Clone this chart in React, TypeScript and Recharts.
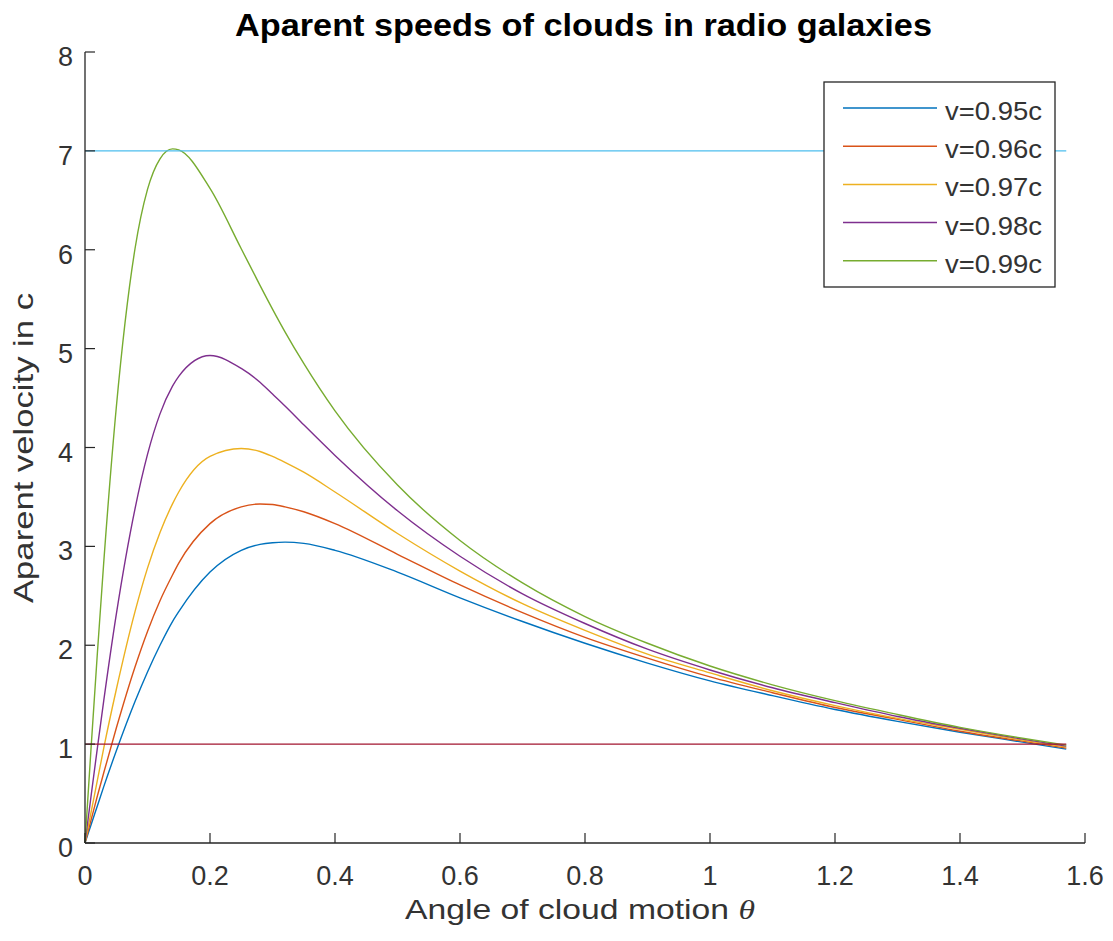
import React from 'react';
import { LineChart, Line, XAxis, YAxis } from 'recharts';

// angle of cloud motion (rad)
const theta = [0, 0.01, 0.02, 0.03, 0.05, 0.08, 0.1, 0.12, 0.14, 0.15, 0.2, 0.25, 0.28, 0.3, 0.32, 0.35, 0.4, 0.5, 0.6, 0.7, 0.8, 0.9, 1.0, 1.1, 1.2, 1.3, 1.4, 1.5, 1.57];

// apparent velocity
const v95 = [0, 0.19, 0.38, 0.57, 0.93, 1.43, 1.73, 2.0, 2.24, 2.34, 2.74, 2.96, 3.02, 3.037, 3.043, 3.03, 2.96, 2.74, 2.48, 2.24, 2.02, 1.82, 1.64, 1.49, 1.35, 1.23, 1.12, 1.02, 0.95];
const v96 = [0, 0.24, 0.48, 0.71, 1.16, 1.78, 2.14, 2.45, 2.71, 2.83, 3.23, 3.4, 3.429, 3.423, 3.4, 3.35, 3.23, 2.92, 2.61, 2.33, 2.08, 1.87, 1.68, 1.52, 1.37, 1.25, 1.13, 1.03, 0.96];
const v97 = [0, 0.32, 0.64, 0.96, 1.55, 2.34, 2.78, 3.14, 3.43, 3.55, 3.91, 3.99, 3.96, 3.91, 3.85, 3.75, 3.55, 3.13, 2.75, 2.42, 2.15, 1.91, 1.72, 1.54, 1.39, 1.26, 1.15, 1.04, 0.97];
const v98 = [0, 0.49, 0.97, 1.44, 2.31, 3.38, 3.93, 4.34, 4.62, 4.72, 4.93, 4.8, 4.66, 4.54, 4.42, 4.23, 3.92, 3.36, 2.9, 2.52, 2.22, 1.96, 1.75, 1.57, 1.42, 1.28, 1.16, 1.05, 0.98];
const v99 = [0, 0.99, 1.94, 2.84, 4.4, 6.01, 6.61, 6.92, 7.02, 7.01, 6.62, 6.01, 5.64, 5.4, 5.17, 4.85, 4.37, 3.62, 3.06, 2.63, 2.29, 2.02, 1.79, 1.6, 1.44, 1.3, 1.17, 1.06, 0.99];
// the two horizontal guide lines
const upper = theta.map(() => 7);
const lower = theta.map(() => 1);

const xTicks = [0, 0.2, 0.4, 0.6, 0.8, 1, 1.2, 1.4, 1.6];
const yTicks = [0, 1, 2, 3, 4, 5, 6, 7, 8];

const series = [
  { key: 'v95', name: 'v=0.95c', color: '#0072BD' },
  { key: 'v96', name: 'v=0.96c', color: '#D95319' },
  { key: 'v97', name: 'v=0.97c', color: '#EDB120' },
  { key: 'v98', name: 'v=0.98c', color: '#7E2F8E' },
  { key: 'v99', name: 'v=0.99c', color: '#77AC30' },
];

const data = theta.map((t, i) => ({
  t,
  v95: v95[i],
  v96: v96[i],
  v97: v97[i],
  v98: v98[i],
  v99: v99[i],
  upper: upper[i],
  lower: lower[i],
}));

const FONT = '"Liberation Sans", Arial, Helvetica, sans-serif';
const INK = '#262626';
const LABEL = '#333333';
const TICK = 10;

const BottomTick = (props: any) => {
  const { x, y, payload } = props;
  return (
    <g>
      <line x1={x} x2={x} y1={y} y2={y - TICK} stroke={INK} strokeWidth={1.2} />
      <text x={x} y={y + 42} textAnchor="middle" fontSize={27} fill={LABEL} fontFamily={FONT}>
        {String(payload.value)}
      </text>
    </g>
  );
};

const TopTick = (props: any) => {
  const { x, y } = props;
  return <line x1={x} x2={x} y1={y} y2={y + TICK} stroke={INK} strokeWidth={1.2} />;
};

const LeftTick = (props: any) => {
  const { x, y, payload } = props;
  return (
    <g>
      <line x1={x} x2={x + TICK} y1={y} y2={y} stroke={INK} strokeWidth={1.2} />
      <text x={x - 12} y={y + 14} textAnchor="end" fontSize={27} fill={LABEL} fontFamily={FONT}>
        {String(payload.value)}
      </text>
    </g>
  );
};

const RightTick = (props: any) => {
  const { x, y } = props;
  return <line x1={x} x2={x - TICK} y1={y} y2={y} stroke={INK} strokeWidth={1.2} />;
};

export default function App() {
  return (
    <div style={{ position: 'absolute', left: 0, top: 0, width: 1113, height: 941, background: '#fff' }}>
      <LineChart width={1113} height={941} data={data} margin={{ top: 52, right: 28, bottom: 58, left: 25 }}>
        <XAxis
          xAxisId="b"
          dataKey="t"
          type="number"
          domain={[0, 1.6]}
          ticks={xTicks}
          height={40}
          tickSize={0}
          tickMargin={0}
          tickLine={false}
          tick={<BottomTick />}
          axisLine={{ stroke: INK, strokeWidth: 1.3 }}
          interval={0}
        />
        <XAxis
          xAxisId="t"
          orientation="top"
          dataKey="t"
          type="number"
          domain={[0, 1.6]}
          ticks={xTicks}
          height={0}
          tickSize={0}
          tickMargin={0}
          tickLine={false}
          tick={<TopTick />}
          axisLine={{ stroke: INK, strokeWidth: 1.3 }}
          interval={0}
        />
        <YAxis
          yAxisId="l"
          type="number"
          domain={[0, 8]}
          ticks={yTicks}
          width={60}
          tickSize={0}
          tickMargin={0}
          tickLine={false}
          tick={<LeftTick />}
          axisLine={{ stroke: INK, strokeWidth: 1.3 }}
          interval={0}
        />
        <YAxis
          yAxisId="r"
          orientation="right"
          type="number"
          domain={[0, 8]}
          ticks={yTicks}
          width={0}
          tickSize={0}
          tickMargin={0}
          tickLine={false}
          tick={<RightTick />}
          axisLine={{ stroke: INK, strokeWidth: 1.3 }}
          interval={0}
        />
        {series.map((s) => (
          <Line
            key={s.key}
            xAxisId="b"
            yAxisId="l"
            type="monotone"
            dataKey={s.key}
            name={s.name}
            stroke={s.color}
            strokeWidth={1.4}
            dot={false}
            activeDot={false}
            isAnimationActive={false}
          />
        ))}
        <Line xAxisId="b" yAxisId="l" type="linear" dataKey="upper" stroke="#4DBEEE" strokeWidth={1.3} dot={false} activeDot={false} isAnimationActive={false} />
        <Line xAxisId="b" yAxisId="l" type="linear" dataKey="lower" stroke="#A2142F" strokeWidth={1.3} dot={false} activeDot={false} isAnimationActive={false} />
      </LineChart>

      <svg width={1113} height={941} style={{ position: 'absolute', left: 0, top: 0, pointerEvents: 'none' }} fontFamily={FONT}>
        <text x={583.5} y={36} textAnchor="middle" fontSize={31} fontWeight="bold" fill="#000" textLength={697} lengthAdjust="spacingAndGlyphs">
          Aparent speeds of clouds in radio galaxies
        </text>
        <text x={580} y={919} textAnchor="middle" fontSize={28} fill={LABEL} textLength={350} lengthAdjust="spacingAndGlyphs">
          Angle of cloud motion <tspan fontStyle="italic" fontFamily='"Liberation Serif", serif'>θ</tspan>
        </text>
        <text
          x={0}
          y={0}
          transform="translate(33, 448) rotate(-90)"
          textAnchor="middle"
          fontSize={28}
          fill={LABEL}
          textLength={310}
          lengthAdjust="spacingAndGlyphs"
        >
          Aparent velocity in c
        </text>

        <rect x={824} y={82} width={231} height={205} fill="#fff" stroke={INK} strokeWidth={1.3} />
        {series.map((s, i) => {
          const y = 108 + i * 38.2;
          return (
            <g key={s.key}>
              <line x1={843} x2={937} y1={y} y2={y} stroke={s.color} strokeWidth={1.5} />
              <text x={945} y={y + 12} fontSize={25} fill={LABEL} textLength={97} lengthAdjust="spacingAndGlyphs">
                {s.name}
              </text>
            </g>
          );
        })}
      </svg>
    </div>
  );
}
